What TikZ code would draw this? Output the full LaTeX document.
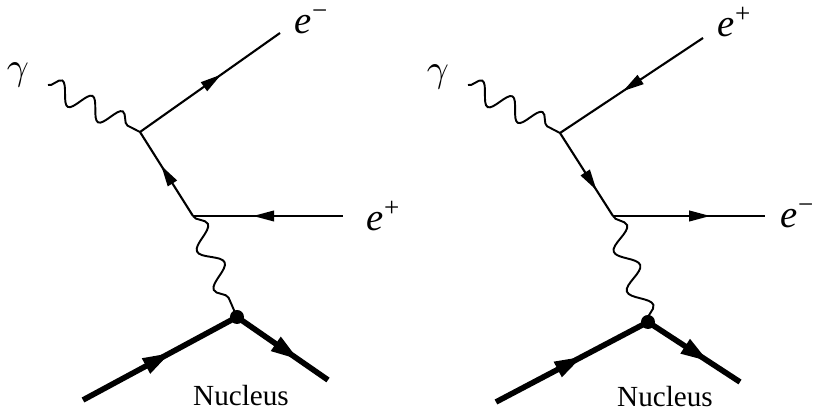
\documentclass[tikz,border=0pt]{standalone}
\usepackage{fontspec}
\setmainfont{Liberation Serif}
\usetikzlibrary{arrows.meta,decorations.pathmorphing,decorations.markings}

\begin{document}
\begin{tikzpicture}[
        fermion/.style={line width=0.6pt, postaction={decorate},
            decoration={markings, mark=at position #1 with {\arrow{Triangle[length=6pt,width=3pt]}}}},
        fermion/.default=0.6,
        nucleon/.style={line width=1.6pt, postaction={decorate},
            decoration={markings, mark=at position #1 with {\arrow{Triangle[length=8pt,width=4.5pt]}}}},
        nucleon/.default=0.6,
        photon/.style={line width=0.55pt, decorate,
            decoration={snake, amplitude=0.105cm, segment length=#1}},
        photon/.default=0.34cm,
        lbl/.style={font=\fontsize{11}{13}\selectfont, inner sep=0pt},
        nlbl/.style={font=\fontsize{8.3}{10}\selectfont, inner sep=0pt}
    ]
        \useasboundingbox (0,0) rectangle (8.16,4.10);

        % Left: electron line
        \coordinate (lg) at (0.48, 3.25);
        \coordinate (lv1) at (1.40, 2.78);
        \coordinate (lv2) at (1.93, 1.94);
        \coordinate (lv3) at (2.37, 0.93);
        \coordinate (lout) at (2.80, 3.77);
        \coordinate (lin) at (3.43, 1.94);
        \coordinate (lnin) at (0.83, 0.10);
        \coordinate (lnout) at (3.28, 0.30);

        \node[lbl] (lgamma) at (0.18, 3.35) {$\gamma$};
        \node[lbl] (lem) at (3.12, 3.88) {\textit{e}\textsuperscript{−}};
        \node[lbl] (lep) at (3.84, 1.94) {\textit{e}\textsuperscript{+}};
        \node[nlbl] (lnuc) at (2.41, 0.14) {Nucleus};

        \draw[photon] (lg) -- (lv1);
        \draw[fermion=0.58] (lv1) -- (lout);
        \draw[fermion=0.6] (lv2) -- (lv1);
        \draw[fermion=0.6] (lin) -- (lv2);
        \draw[photon=0.42cm] (lv2) -- (lv3);
        \draw[nucleon=0.57] (lnin) -- (lv3);
        \draw[nucleon=0.68] (lv3) -- (lnout);
        \fill (lv3) circle (0.07);

        % Right: positron line
        \coordinate (rg) at (4.68, 3.25);
        \coordinate (rv1) at (5.60, 2.77);
        \coordinate (rv2) at (6.13, 1.94);
        \coordinate (rv3) at (6.48, 0.88);
        \coordinate (rin) at (7.03, 3.72);
        \coordinate (rout) at (7.65, 1.94);
        \coordinate (rnin) at (4.96, 0.08);
        \coordinate (rnout) at (7.40, 0.28);

        \node[lbl] (rgamma) at (4.38, 3.33) {$\gamma$};
        \node[lbl] (rep) at (7.35, 3.88) {\textit{e}\textsuperscript{+}};
        \node[lbl] (rem) at (7.98, 1.94) {\textit{e}\textsuperscript{−}};
        \node[nlbl] (rnuc) at (6.65, 0.13) {Nucleus};

        \draw[photon] (rg) -- (rv1);
        \draw[fermion=0.56] (rin) -- (rv1);
        \draw[fermion=0.69] (rv1) -- (rv2);
        \draw[fermion=0.64] (rv2) -- (rout);
        \draw[photon=0.42cm] (rv2) -- (rv3);
        \draw[nucleon=0.57] (rnin) -- (rv3);
        \draw[nucleon=0.66] (rv3) -- (rnout);
        \fill (rv3) circle (0.07);
    \end{tikzpicture}
\end{document}
